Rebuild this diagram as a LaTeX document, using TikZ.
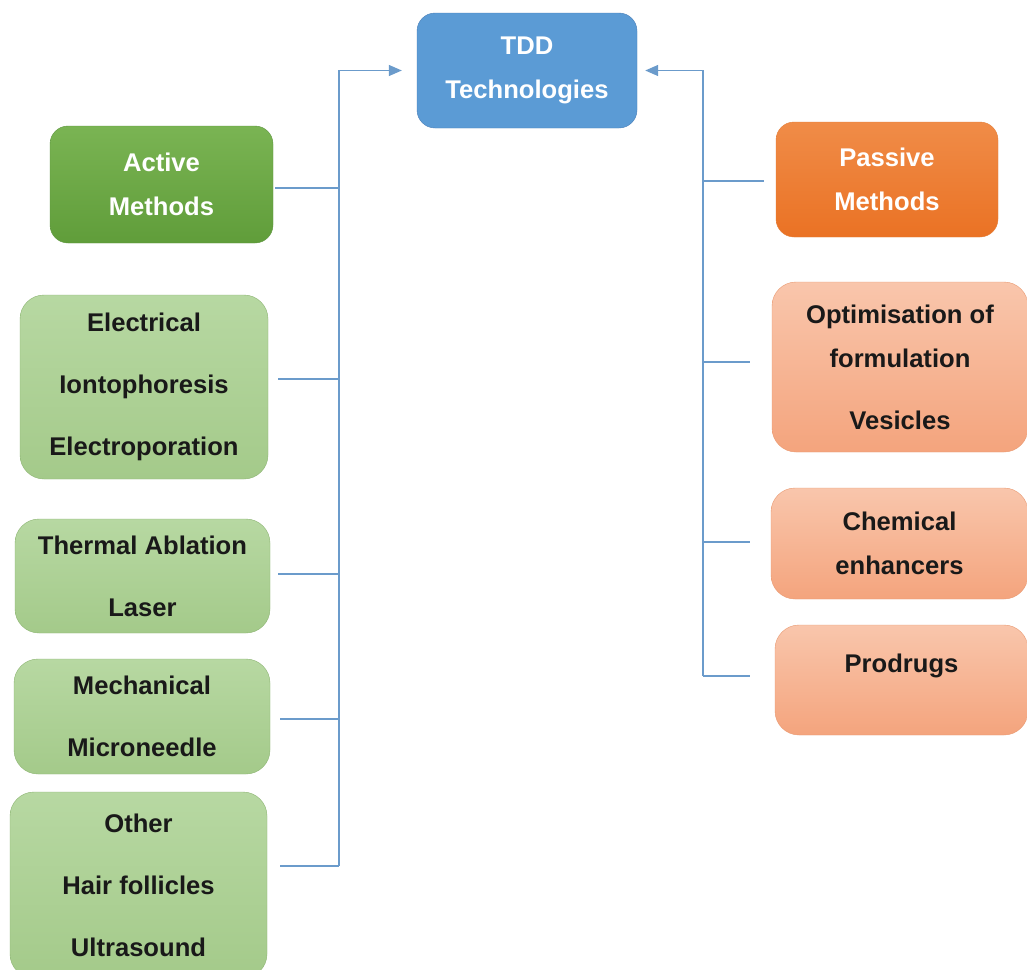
\documentclass[tikz,border=0pt]{standalone}
\usepackage{fontspec}
\setmainfont{Liberation Sans}
\usepackage{xcolor}
\usetikzlibrary{arrows.meta}

\definecolor{tddfill}{HTML}{5B9BD5}
\definecolor{tddline}{HTML}{4A7FB8}
\definecolor{acttop}{HTML}{7AB453}
\definecolor{actbot}{HTML}{609D3A}
\definecolor{actline}{HTML}{5E9640}
\definecolor{lgtop}{HTML}{B7D8A2}
\definecolor{lgbot}{HTML}{A4CA8A}
\definecolor{lgline}{HTML}{8DB573}
\definecolor{pastop}{HTML}{F08C48}
\definecolor{pasbot}{HTML}{EA7224}
\definecolor{pasline}{HTML}{E47F3A}
\definecolor{lotop}{HTML}{F9C6AC}
\definecolor{lobot}{HTML}{F4A47D}
\definecolor{loline}{HTML}{E99A72}
\definecolor{linkblue}{HTML}{6B9BCB}

\begin{document}
\begin{tikzpicture}[x=1pt,y=-1pt,
    box/.style={shape=rectangle, draw, rounded corners=18pt, inner sep=0pt, align=center,
      font=\fontsize{25.6}{44}\selectfont\bfseries},
    head/.style={box, text=white},
    item/.style={box, rounded corners=24pt, text=black!90,
      font=\fontsize{25.6}{62}\selectfont\bfseries},
    tddbox/.style={head, fill=tddfill, draw=tddline},
    acthead/.style={head, top color=acttop, bottom color=actbot, draw=actline},
    actitem/.style={item, top color=lgtop, bottom color=lgbot, draw=lgline},
    pashead/.style={head, top color=pastop, bottom color=pasbot, draw=pasline},
    pasitem/.style={item, top color=lotop, bottom color=lobot, draw=loline},
    link/.style={draw=linkblue, line width=1.3pt},
    arr/.style={link, -{Triangle[length=13pt,width=11pt]}}]
    \path[use as bounding box, fill=white] (0,0) rectangle (1027,969);

    \node[tddbox, minimum width=220pt, minimum height=115pt] (tdd) at (527,70.5) {TDD\\Technologies};

    % active side
    \node[acthead, minimum width=223pt, minimum height=117pt] (active) at (161.5,184.5) {Active\\Methods};
    \node[actitem, minimum width=248pt, minimum height=184pt] (elec) at (144,387) {Electrical\\Iontophoresis\\Electroporation};
    \node[actitem, minimum width=255pt, minimum height=114pt] (thermal) at (142.5,576) {Thermal Ablation\\Laser};
    \node[actitem, minimum width=256pt, minimum height=115pt] (mech) at (142,716.5) {Mechanical\\Microneedle};
    \node[actitem, minimum width=257pt, minimum height=186pt] (other) at (138.5,885) {Other\\Hair follicles\\Ultrasound};

    % passive side
    \node[pashead, minimum width=222pt, minimum height=115pt] (passive) at (887,179.5) {Passive\\Methods};
    \node[pasitem, minimum width=256pt, minimum height=170pt] (optim) at (900,367) {Optimisation of\\[-18pt]formulation\\Vesicles};
    \node[pasitem, minimum width=257pt, minimum height=111pt, font=\fontsize{25.6}{44}\selectfont\bfseries] (chem) at (899.5,543.5) {Chemical\\enhancers};
    \node[pasitem, minimum width=253pt, minimum height=110pt, text depth=33pt] (prod) at (901.5,680) {Prodrugs};

    \coordinate (ltrunk) at (339,866);
    \coordinate (rtrunk) at (703,676);
    \draw[arr, shorten >=15pt] (ltrunk) -- (ltrunk |- tdd.west) -- (tdd.west);
    \draw[arr, shorten >=8pt] (rtrunk) -- (rtrunk |- tdd.east) -- (tdd.east);

    \foreach \n/\y/\g in {active/188/2, elec/379/10, thermal/574/8, mech/719/10, other/866/13}
      \draw[link] ([xshift=\g pt]\n.east |- 0,\y) -- (ltrunk |- 0,\y);
    \foreach \n/\y/\g in {passive/181/12, optim/362/22, chem/542/21, prod/676/25}
      \draw[link] (rtrunk |- 0,\y) -- ([xshift=-\g pt]\n.west |- 0,\y);
  \end{tikzpicture}
\end{document}
